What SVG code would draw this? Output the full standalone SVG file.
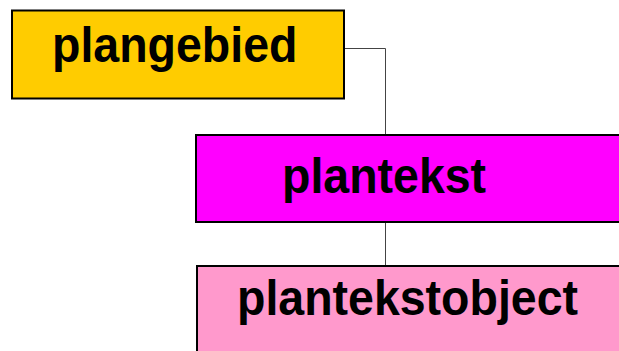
<svg xmlns="http://www.w3.org/2000/svg" width="619" height="351" viewBox="0 0 619 351">
<style>
.box{stroke:#000;stroke-width:2}
.lbl{font-family:"Liberation Sans",Arial,sans-serif;font-weight:bold;font-size:46.5px;fill:#000}
.conn{fill:none;stroke:#444;stroke-width:1}
</style>
<rect width="619" height="351" fill="#fff"/>
<g id="connectors">
<path class="conn" d="M344 48.5H385.5V135"/>
<path class="conn" d="M385.5 222V266"/>
</g>
<g id="plangebied">
<rect class="box" x="12" y="10.5" width="332" height="88" fill="#FFCC00"/>
<text class="lbl" transform="translate(52 62) scale(1 1.06)">plangebied</text>
</g>
<g id="plantekst">
<rect class="box" x="196" y="135" width="430" height="87" fill="#FF00FF"/>
<text class="lbl" transform="translate(282 193) scale(1 1.06)">plantekst</text>
</g>
<g id="plantekstobject">
<rect class="box" x="197" y="266" width="430" height="100" fill="#FF99CC"/>
<text class="lbl" transform="translate(237 315) scale(1 1.06)">plantekstobject</text>
</g>
</svg>
